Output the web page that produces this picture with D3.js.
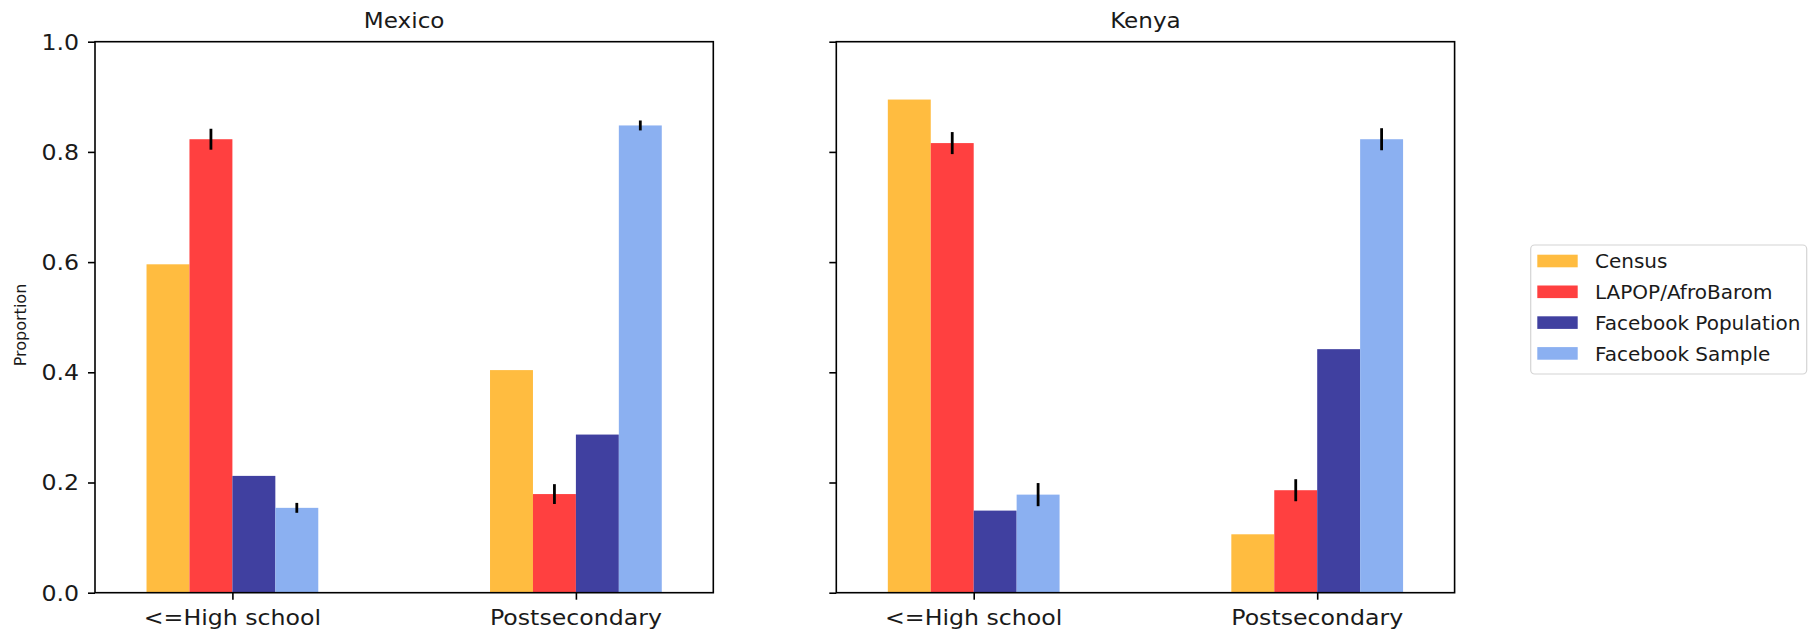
<!DOCTYPE html>
<html>
<head>
<meta charset="utf-8">
<script src="https://cdn.jsdelivr.net/npm/d3@7"></script>
<style>
  html, body { margin: 0; padding: 0; background: #fff; }
  svg { display: block; }
  text { font-family: "DejaVu Sans", sans-serif; fill: #1a1a1a; }
</style>
</head>
<body>
<svg id="chart" width="1812" height="631"></svg>
<script>
// Education level shares, by data source, for two countries
const categories = ["<=High school", "Postsecondary"];
const seriesNames = ["Census", "LAPOP/AfroBarom", "Facebook Population", "Facebook Sample"];
const seriesColors = ["#ffbc40", "#ff4040", "#4040a0", "#8bb0f1"];

const panels = ["Mexico", "Kenya"];

// values[series][category]
const mexicoValues = [
  [0.596, 0.404],
  [0.823, 0.179],
  [0.212, 0.287],
  [0.154, 0.848]
];
const mexicoErrors = [
  [null, null],
  [0.019, 0.018],
  [null, null],
  [0.009, 0.009]
];
const kenyaValues = [
  [0.895, 0.106],
  [0.816, 0.186],
  [0.149, 0.442],
  [0.178, 0.823]
];
const kenyaErrors = [
  [null, null],
  [0.020, 0.020],
  [null, null],
  [0.021, 0.020]
];

const yTicks = [0, 0.2, 0.4, 0.6, 0.8, 1.0];
const yTickLabels = ["0.0", "0.2", "0.4", "0.6", "0.8", "1.0"];
const yLabel = "Proportion";

const panelData = [
  { title: panels[0], values: mexicoValues, errors: mexicoErrors },
  { title: panels[1], values: kenyaValues, errors: kenyaErrors }
];

const svg = d3.select("#chart");
const plotTop = 41.7, plotBottom = 592.7;
const panelLefts = [95, 836.3];
const panelWidth = 618.3;
const barWidth = 0.125;   // in category units; four bars fill half the slot
const textStretch = 1.1;

const y = d3.scaleLinear().domain([0, 1]).range([plotBottom, plotTop]);

// horizontally stretched text helper
function label(parent, x, yPos, txt, size, anchor, sx) {
  const g = parent.append("g").attr("transform", `translate(${x},${yPos}) scale(${sx},1)`);
  g.append("text").attr("text-anchor", anchor).attr("font-size", size).text(txt);
  return g;
}

panelData.forEach((p, pi) => {
  const left = panelLefts[pi];
  const x = d3.scaleLinear().domain([-0.4, 1.4]).range([left, left + panelWidth]);
  const g = svg.append("g");

  // bars
  p.values.forEach((vals, si) => {
    g.selectAll(null)
      .data(vals.map((v, ci) => ({ v, ci })))
      .join("rect")
      .attr("x", d => x(d.ci - 0.25 + si * barWidth))
      .attr("width", x(barWidth) - x(0))
      .attr("y", d => y(d.v))
      .attr("height", d => y(0) - y(d.v))
      .attr("fill", seriesColors[si]);
  });

  // error bars
  p.values.forEach((vals, si) => {
    const errs = p.errors[si];
    g.selectAll(null)
      .data(vals.map((v, ci) => ({ v, ci, e: errs[ci] })).filter(d => d.e != null))
      .join("line")
      .attr("x1", d => x(d.ci - 0.25 + (si + 0.5) * barWidth))
      .attr("x2", d => x(d.ci - 0.25 + (si + 0.5) * barWidth))
      .attr("y1", d => y(d.v - d.e))
      .attr("y2", d => y(d.v + d.e))
      .attr("stroke", "#000")
      .attr("stroke-width", 2.8);
  });

  // frame
  g.append("rect")
    .attr("x", left).attr("y", plotTop)
    .attr("width", panelWidth).attr("height", plotBottom - plotTop)
    .attr("fill", "none").attr("stroke", "#000").attr("stroke-width", 1.6);

  // y axis ticks
  const yAxis = d3.axisLeft(y).tickValues(yTicks).tickSize(7).tickFormat("");
  const ya = g.append("g").attr("transform", `translate(${left},0)`).call(yAxis);
  ya.select(".domain").remove();
  ya.selectAll(".tick line").attr("stroke", "#000").attr("stroke-width", 1.6);
  if (pi === 0) {
    yTicks.forEach((t, i) => {
      label(g, left - 16, y(t) + 7.8, yTickLabels[i], 21.5, "end", textStretch);
    });
  }

  // x axis ticks
  const xAxis = d3.axisBottom(x).tickValues([0, 1]).tickSize(7).tickFormat("");
  const xa = g.append("g").attr("transform", `translate(0,${plotBottom})`).call(xAxis);
  xa.select(".domain").remove();
  xa.selectAll(".tick line").attr("stroke", "#000").attr("stroke-width", 1.6);
  categories.forEach((c, ci) => {
    label(g, x(ci), 624.5, c, 21.5, "middle", textStretch);
  });

  // title
  label(g, left + panelWidth / 2, 28, p.title, 21, "middle", textStretch);
});

// y axis title
svg.append("text")
  .attr("transform", `translate(26,325) rotate(-90)`)
  .attr("text-anchor", "middle")
  .attr("font-size", 16)
  .text(yLabel);

// legend
const legend = svg.append("g");
legend.append("rect")
  .attr("x", 1530.7).attr("y", 245).attr("width", 276).attr("height", 129)
  .attr("rx", 4).attr("fill", "#fff").attr("stroke", "#d4d4d4").attr("stroke-width", 1.2);
seriesNames.forEach((name, i) => {
  const cy = 261 + i * 30.8;
  legend.append("rect")
    .attr("x", 1537.3).attr("y", cy - 6.3).attr("width", 40.4).attr("height", 12.6)
    .attr("fill", seriesColors[i]);
  label(legend, 1595, cy + 7.3, name, 20, "start", 1.0);
});
</script>
</body>
</html>
